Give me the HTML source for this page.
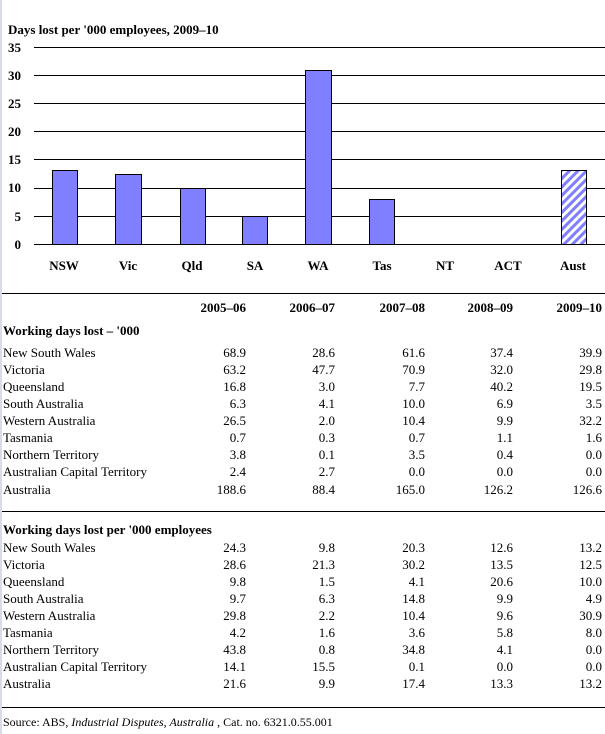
<!DOCTYPE html>
<html><head><meta charset="utf-8"><style>
html,body{margin:0;padding:0;background:#fff;}
svg{display:block;font-family:"Liberation Serif",serif;}
</style></head><body>
<svg width="605" height="734" xmlns="http://www.w3.org/2000/svg">
<defs>
<pattern id="h" width="6" height="6" patternUnits="userSpaceOnUse" patternTransform="rotate(45)">
<rect width="6" height="6" fill="#fff"/><rect width="3" height="6" fill="#7f7fff"/>
</pattern>
</defs>
<rect x="0" y="0" width="2" height="734" fill="#d6dde6"/>
<text x="8" y="34" font-size="13" font-weight="bold">Days lost per '000 employees, 2009–10</text>
<g font-size="13" font-weight="bold" text-anchor="end">
<text x="21" y="52">35</text><text x="21" y="80">30</text><text x="21" y="108">25</text>
<text x="21" y="136">20</text><text x="21" y="164">15</text><text x="21" y="192">10</text>
<text x="21" y="221">5</text><text x="21" y="249">0</text>
</g>
<g stroke="#000" stroke-width="1">
<line x1="34" y1="47.5" x2="605" y2="47.5"/><line x1="34" y1="75.5" x2="605" y2="75.5"/>
<line x1="34" y1="103.5" x2="605" y2="103.5"/><line x1="34" y1="131.5" x2="605" y2="131.5"/>
<line x1="34" y1="159.5" x2="605" y2="159.5"/><line x1="34" y1="188.5" x2="605" y2="188.5"/>
<line x1="34" y1="216.5" x2="605" y2="216.5"/>
</g>
<g fill="#7f7fff" stroke="#000" stroke-width="1">
<rect x="52.5" y="170.5" width="25" height="74"/>
<rect x="115.5" y="174.5" width="26" height="70"/>
<rect x="180.5" y="188.5" width="25" height="56"/>
<rect x="242.5" y="216.5" width="25" height="28"/>
<rect x="305.5" y="70.5" width="26" height="174"/>
<rect x="369.5" y="199.5" width="25" height="45"/>
<rect x="561.5" y="170.5" width="25" height="74" fill="url(#h)"/>
</g>
<line x1="34" y1="244.5" x2="605" y2="244.5" stroke="#000"/>
<g font-size="13" font-weight="bold" text-anchor="middle">
<text x="64" y="270">NSW</text><text x="128" y="270">Vic</text><text x="192" y="270">Qld</text>
<text x="255" y="270">SA</text><text x="318" y="270">WA</text><text x="382" y="270">Tas</text>
<text x="445" y="270">NT</text><text x="508" y="270">ACT</text><text x="573" y="270">Aust</text>
</g>
<line x1="2" y1="293.5" x2="605" y2="293.5" stroke="#000"/>
<g font-size="13" font-weight="bold" text-anchor="end">
<text x="246" y="312">2005–06</text><text x="335" y="312">2006–07</text><text x="425" y="312">2007–08</text>
<text x="513" y="312">2008–09</text><text x="602" y="312">2009–10</text>
</g>
<text x="3" y="335" font-size="13" font-weight="bold">Working days lost – '000</text>
<g font-size="13">
<text x="3" y="357">New South Wales</text><text x="3" y="374">Victoria</text><text x="3" y="391">Queensland</text>
<text x="3" y="408">South Australia</text><text x="3" y="425">Western Australia</text><text x="3" y="442">Tasmania</text>
<text x="3" y="459">Northern Territory</text><text x="3" y="476">Australian Capital Territory</text><text x="3" y="494">Australia</text>
</g>
<g font-size="13" text-anchor="end">
<text y="357"><tspan x="246">68.9</tspan><tspan x="335">28.6</tspan><tspan x="425">61.6</tspan><tspan x="513">37.4</tspan><tspan x="602">39.9</tspan></text>
<text y="374"><tspan x="246">63.2</tspan><tspan x="335">47.7</tspan><tspan x="425">70.9</tspan><tspan x="513">32.0</tspan><tspan x="602">29.8</tspan></text>
<text y="391"><tspan x="246">16.8</tspan><tspan x="335">3.0</tspan><tspan x="425">7.7</tspan><tspan x="513">40.2</tspan><tspan x="602">19.5</tspan></text>
<text y="408"><tspan x="246">6.3</tspan><tspan x="335">4.1</tspan><tspan x="425">10.0</tspan><tspan x="513">6.9</tspan><tspan x="602">3.5</tspan></text>
<text y="425"><tspan x="246">26.5</tspan><tspan x="335">2.0</tspan><tspan x="425">10.4</tspan><tspan x="513">9.9</tspan><tspan x="602">32.2</tspan></text>
<text y="442"><tspan x="246">0.7</tspan><tspan x="335">0.3</tspan><tspan x="425">0.7</tspan><tspan x="513">1.1</tspan><tspan x="602">1.6</tspan></text>
<text y="459"><tspan x="246">3.8</tspan><tspan x="335">0.1</tspan><tspan x="425">3.5</tspan><tspan x="513">0.4</tspan><tspan x="602">0.0</tspan></text>
<text y="476"><tspan x="246">2.4</tspan><tspan x="335">2.7</tspan><tspan x="425">0.0</tspan><tspan x="513">0.0</tspan><tspan x="602">0.0</tspan></text>
<text y="494"><tspan x="246">188.6</tspan><tspan x="335">88.4</tspan><tspan x="425">165.0</tspan><tspan x="513">126.2</tspan><tspan x="602">126.6</tspan></text>
</g>
<line x1="2" y1="511.5" x2="605" y2="511.5" stroke="#000"/>
<text x="3" y="534" font-size="13" font-weight="bold">Working days lost per '000 employees</text>
<g font-size="13">
<text x="3" y="552">New South Wales</text><text x="3" y="569">Victoria</text><text x="3" y="586">Queensland</text>
<text x="3" y="603">South Australia</text><text x="3" y="620">Western Australia</text><text x="3" y="637">Tasmania</text>
<text x="3" y="654">Northern Territory</text><text x="3" y="671">Australian Capital Territory</text><text x="3" y="688">Australia</text>
</g>
<g font-size="13" text-anchor="end">
<text y="552"><tspan x="246">24.3</tspan><tspan x="335">9.8</tspan><tspan x="425">20.3</tspan><tspan x="513">12.6</tspan><tspan x="602">13.2</tspan></text>
<text y="569"><tspan x="246">28.6</tspan><tspan x="335">21.3</tspan><tspan x="425">30.2</tspan><tspan x="513">13.5</tspan><tspan x="602">12.5</tspan></text>
<text y="586"><tspan x="246">9.8</tspan><tspan x="335">1.5</tspan><tspan x="425">4.1</tspan><tspan x="513">20.6</tspan><tspan x="602">10.0</tspan></text>
<text y="603"><tspan x="246">9.7</tspan><tspan x="335">6.3</tspan><tspan x="425">14.8</tspan><tspan x="513">9.9</tspan><tspan x="602">4.9</tspan></text>
<text y="620"><tspan x="246">29.8</tspan><tspan x="335">2.2</tspan><tspan x="425">10.4</tspan><tspan x="513">9.6</tspan><tspan x="602">30.9</tspan></text>
<text y="637"><tspan x="246">4.2</tspan><tspan x="335">1.6</tspan><tspan x="425">3.6</tspan><tspan x="513">5.8</tspan><tspan x="602">8.0</tspan></text>
<text y="654"><tspan x="246">43.8</tspan><tspan x="335">0.8</tspan><tspan x="425">34.8</tspan><tspan x="513">4.1</tspan><tspan x="602">0.0</tspan></text>
<text y="671"><tspan x="246">14.1</tspan><tspan x="335">15.5</tspan><tspan x="425">0.1</tspan><tspan x="513">0.0</tspan><tspan x="602">0.0</tspan></text>
<text y="688"><tspan x="246">21.6</tspan><tspan x="335">9.9</tspan><tspan x="425">17.4</tspan><tspan x="513">13.3</tspan><tspan x="602">13.2</tspan></text>
</g>
<line x1="2" y1="707.5" x2="605" y2="707.5" stroke="#000"/>
<text x="3" y="726" font-size="12">Source: ABS, <tspan font-style="italic">Industrial Disputes, Australia</tspan> , Cat. no. 6321.0.55.001</text>
</svg>
</body></html>
